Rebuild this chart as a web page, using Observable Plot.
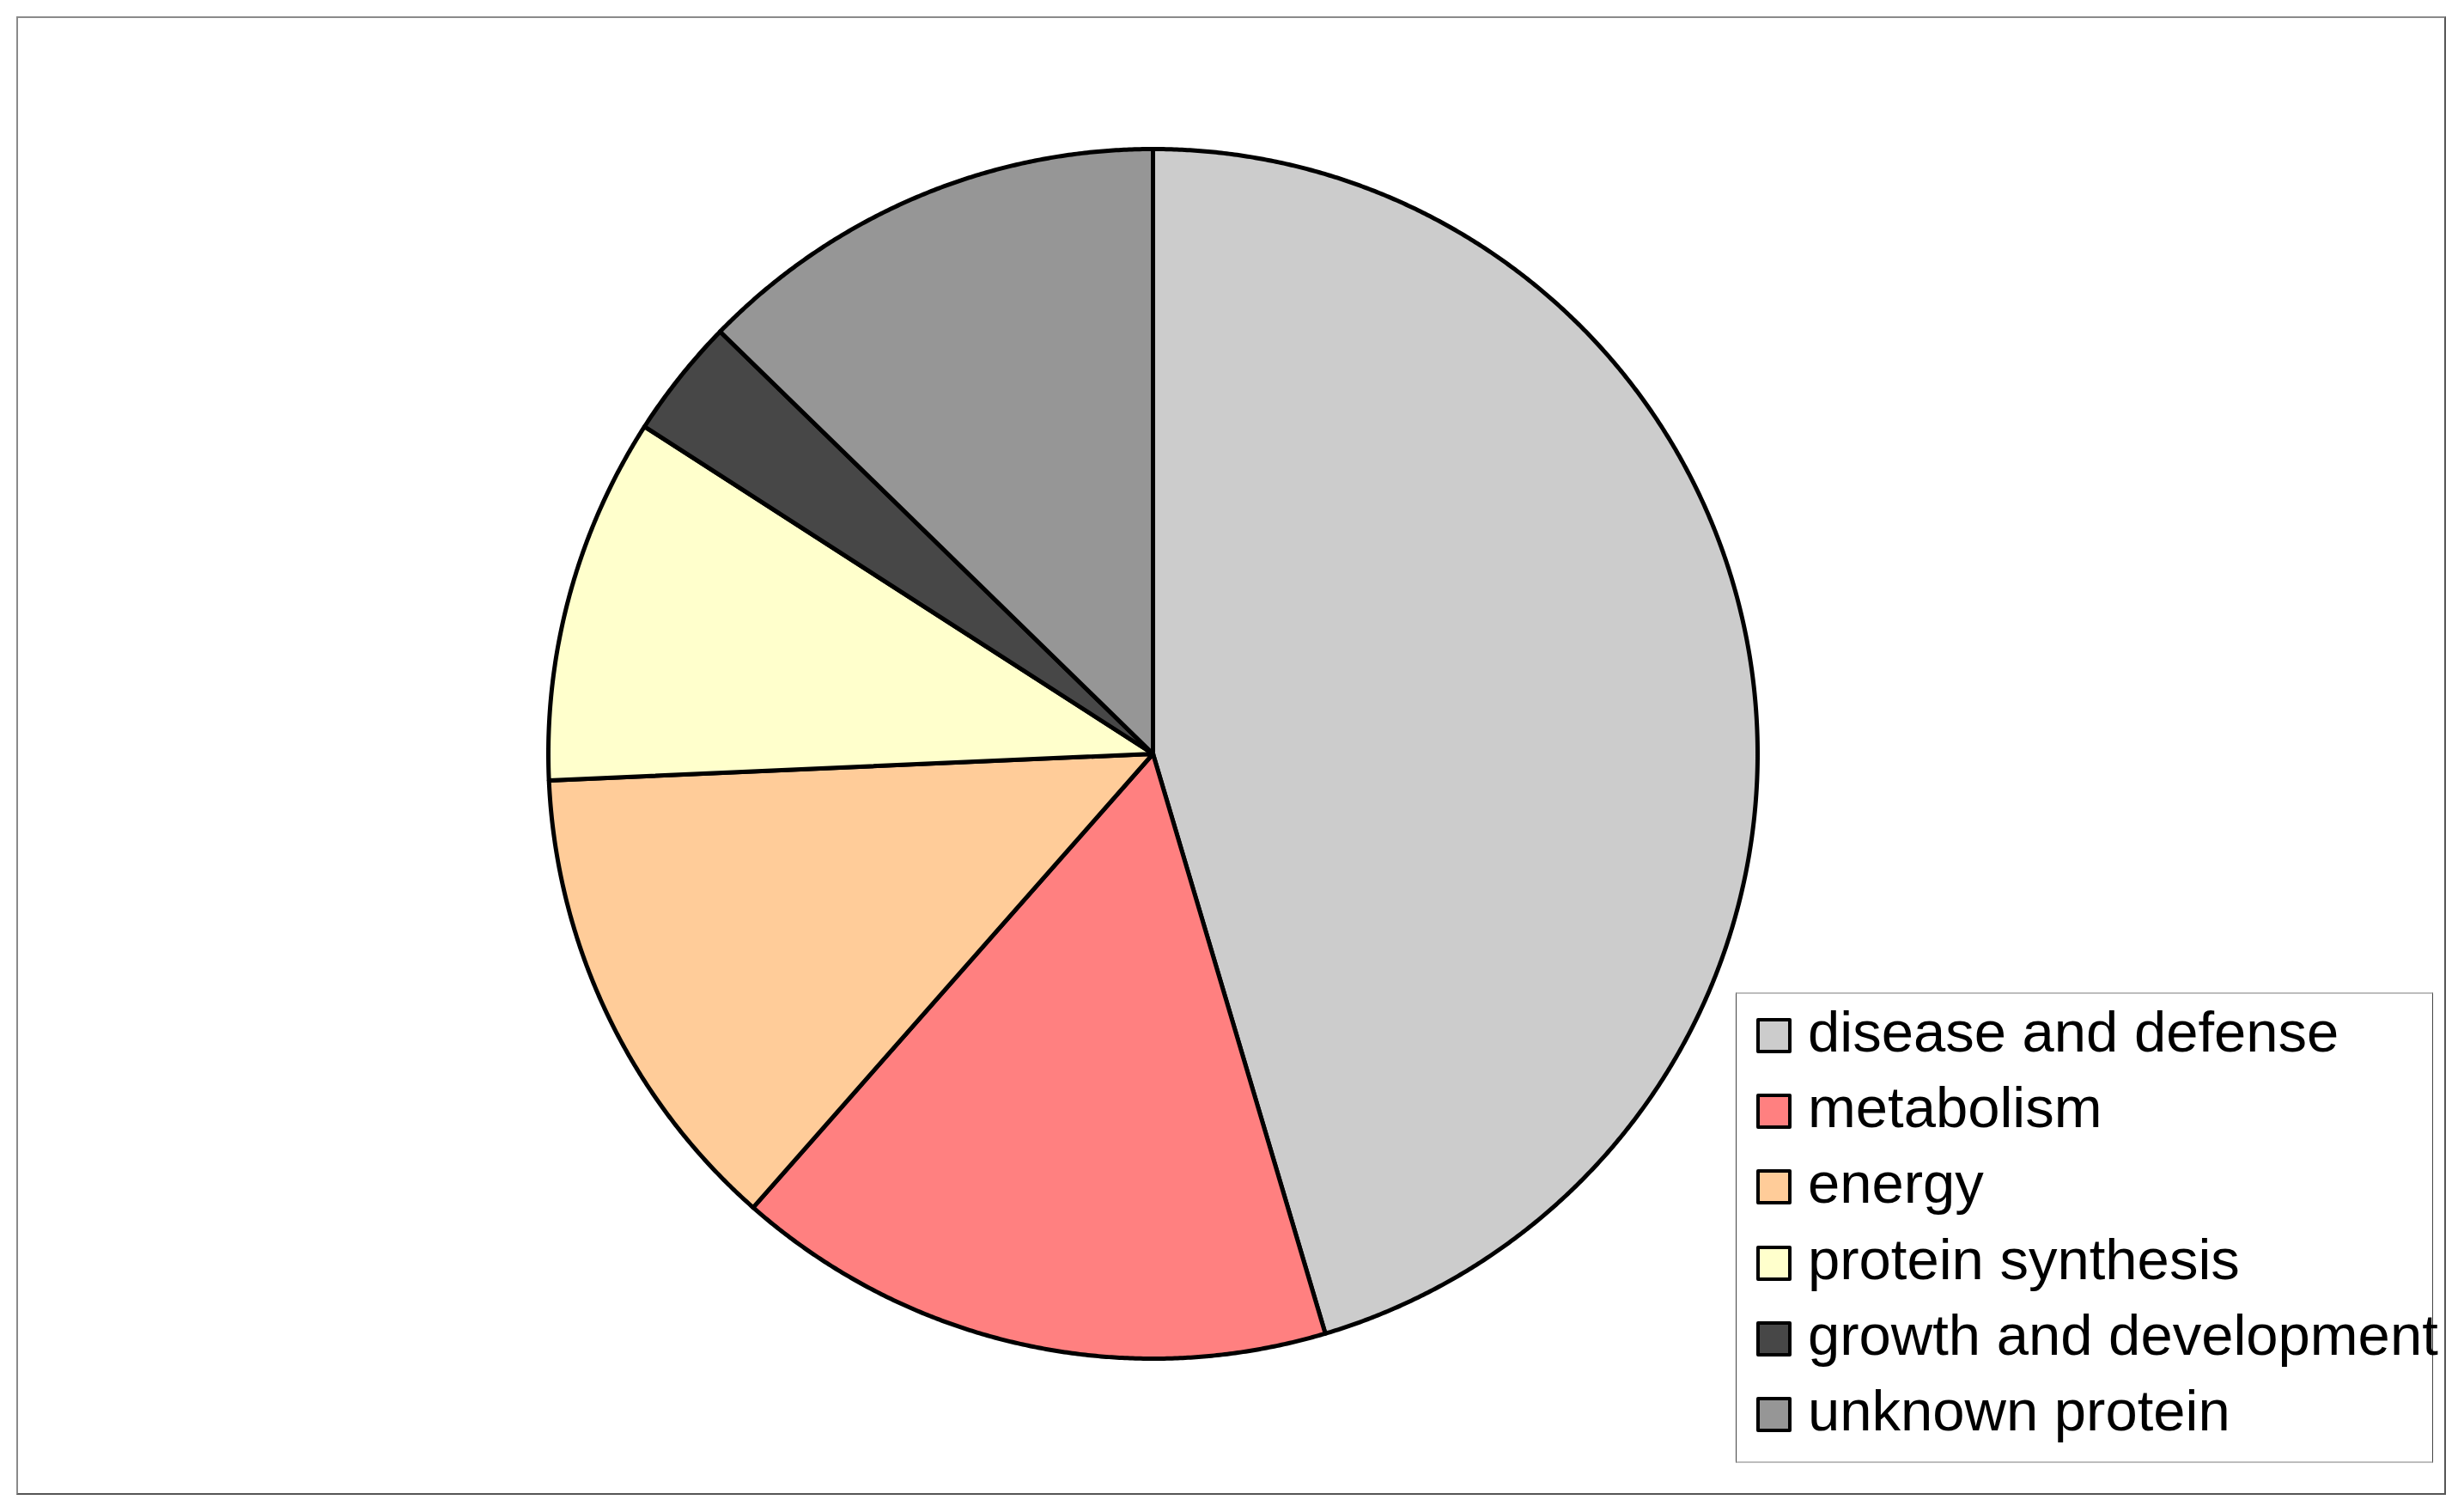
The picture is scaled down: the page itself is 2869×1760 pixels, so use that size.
<!DOCTYPE html>
<html>
<head>
<meta charset="utf-8">
<script src="https://cdn.jsdelivr.net/npm/d3@7"></script>
<script src="https://cdn.jsdelivr.net/npm/@observablehq/plot@0.6"></script>
<style>
html, body { margin: 0; padding: 0; background: #fff; }
#wrap { position: relative; width: 2869px; height: 1760px; overflow: hidden; font-family: "Liberation Sans", Arial, sans-serif; }
#chart { position: absolute; left: 0; top: 0; }
#frame { position: absolute; left: 19px; top: 19px; width: 2829px; height: 1721px; box-sizing: border-box;
  border: 2px solid #8a8a8a; border-right-color: #555; border-bottom-color: #555; pointer-events: none; }
#legend { position: absolute; left: 2021px; top: 1155px; width: 812px; height: 548px; box-sizing: border-box;
  border-top: 2px solid #bdbdbd; border-bottom: 2px solid #bdbdbd; border-left: 1px solid #444; border-right: 1px solid #444; background: #fff; }
.row { position: absolute; left: 0; width: 100%; height: 88px; }
.sw { position: absolute; left: 23px; top: 28px; width: 41px; height: 41px; box-sizing: border-box; border: 4px solid #000; border-radius: 2px; }
.lab { position: absolute; left: 83px; top: 0; font-size: 67px; line-height: 88.2px; white-space: nowrap; color: #000; }
</style>
</head>
<body>
<div id="wrap">
  <div id="chart"></div>
  <div id="frame"></div>
  <div id="legend"></div>
</div>
<script>
// Data (share of proteins, %)
const categories = ["disease and defense", "metabolism", "energy", "protein synthesis", "growth and development", "unknown protein"];
const shares = [45.4, 16.1, 12.8, 9.8, 3.2, 12.7];
const colors = ["#cccccc", "#ff8080", "#ffcc99", "#ffffcc", "#474747", "#969696"];

// Build wedge outlines (clockwise from 12 o'clock) from the pie layout
const arcs = d3.pie().sort(null).value(d => d)(shares);
const pts = [];
arcs.forEach((s, i) => {
  const span = s.endAngle - s.startAngle;
  const n = Math.max(4, Math.ceil(span / (Math.PI / 720)));
  pts.push({cat: categories[i], x: 0, y: 0});
  for (let k = 0; k <= n; k++) {
    const a = s.startAngle + span * k / n;
    pts.push({cat: categories[i], x: Math.sin(a), y: Math.cos(a)});
  }
  pts.push({cat: categories[i], x: 0, y: 0});
});

const chart = Plot.plot({
  width: 2869,
  height: 1760,
  marginLeft: 638,
  marginRight: 823,
  marginTop: 173,
  marginBottom: 179,
  x: {domain: [-1, 1], axis: null},
  y: {domain: [-1, 1], axis: null},
  color: {domain: categories, range: colors},
  marks: [
    Plot.line(pts, {x: "x", y: "y", z: "cat", fill: "cat", stroke: "#000", strokeWidth: 5, strokeLinejoin: "round"})
  ]
});
document.getElementById("chart").appendChild(chart);

// Legend
const legend = document.getElementById("legend");
categories.forEach((c, i) => {
  const row = document.createElement("div");
  row.className = "row";
  row.style.top = (88.2 * i) + "px";
  const sw = document.createElement("div");
  sw.className = "sw";
  sw.style.background = colors[i];
  const lab = document.createElement("div");
  lab.className = "lab";
  lab.textContent = c;
  row.appendChild(sw);
  row.appendChild(lab);
  legend.appendChild(row);
});
</script>
</body>
</html>
